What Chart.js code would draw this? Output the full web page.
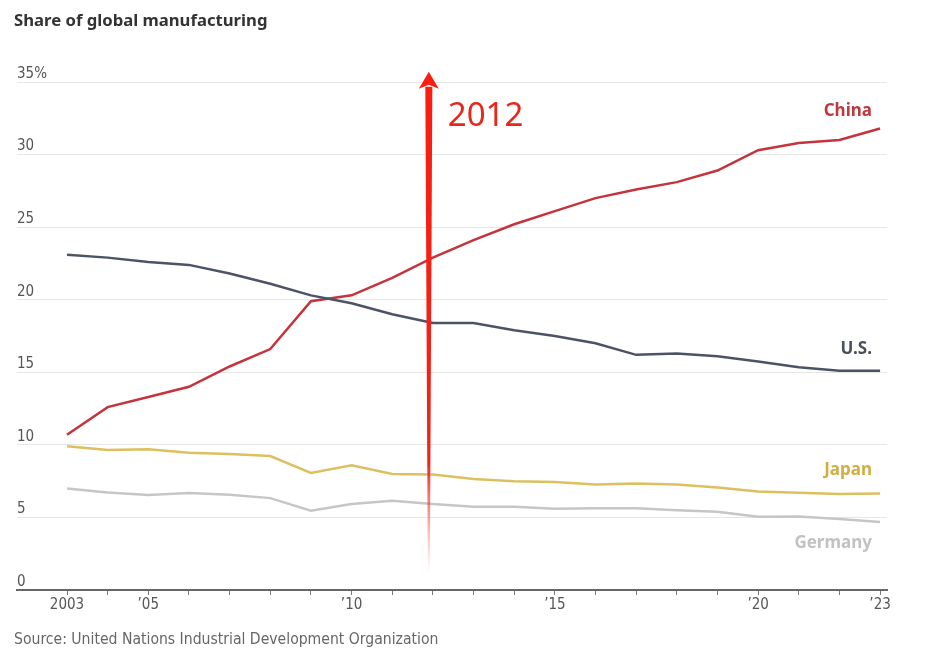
<!DOCTYPE html>
<html>
<head>
<meta charset="utf-8">
<script src="https://cdn.jsdelivr.net/npm/chart.js@4"></script>
<style>
  html, body { margin: 0; padding: 0; background: #fff; }
  #wrap { position: relative; width: 934px; height: 667px; }
  #chart { position: absolute; left: 0; top: 0; }
  .title { position: absolute; left: 14px; top: 8px; font: bold 16.7px "Noto Sans", sans-serif; color: #333; }
  .source { position: absolute; left: 14px; top: 630px; font: 15.6px "Liberation Sans Narrow", "DejaVu Sans Condensed", sans-serif; color: #666; }
</style>
</head>
<body>
<div id="wrap">
  <canvas id="chart" width="934" height="667"></canvas>
  <div class="title">Share of global manufacturing</div>
  <div class="source">Source: United Nations Industrial Development Organization</div>
</div>
<script>
const years = [2003, 2004, 2005, 2006, 2007, 2008, 2009, 2010, 2011, 2012, 2013,
  2014, 2015, 2016, 2017, 2018, 2019, 2020, 2021, 2022, 2023];
const labeledYears = [2003, 2005, 2010, 2015, 2020, 2023];

const china = [10.7, 12.6, 13.3, 14.0, 15.4, 16.6, 19.9, 20.3, 21.5, 22.9, 24.1,
  25.2, 26.1, 27.0, 27.6, 28.1, 28.9, 30.3, 30.8, 31.0, 31.8];
const us = [23.1, 22.9, 22.6, 22.4, 21.8, 21.1, 20.3, 19.75, 19.0, 18.4, 18.4,
  17.9, 17.5, 17.0, 16.2, 16.3, 16.1, 15.75, 15.35, 15.1, 15.1];
const japan = [9.9, 9.65, 9.7, 9.45, 9.37, 9.23, 8.06, 8.6, 7.99, 7.96, 7.65,
  7.5, 7.44, 7.27, 7.34, 7.27, 7.07, 6.79, 6.7, 6.61, 6.65];
const germany = [7.0, 6.72, 6.54, 6.68, 6.56, 6.33, 5.46, 5.92, 6.15, 5.92, 5.73,
  5.73, 5.59, 5.64, 5.64, 5.5, 5.39, 5.04, 5.06, 4.9, 4.68];

const highlightYear = 2012;

const narrow = '"Liberation Sans Narrow", "DejaVu Sans Condensed", sans-serif';

function series(values) {
  return values.map((v, i) => ({ x: years[i], y: v }));
}

// series name labels at the right end, and the red 2012 arrow
const overlay = {
  id: "overlay",
  afterDatasetsDraw(chart) {
    const ctx = chart.ctx;
    const x = chart.scales.x;
    const y = chart.scales.y;

    const names = [
      { text: "China", color: "#c0383f", value: 33.0 },
      { text: "U.S.", color: "#4a4f5c", value: 16.6 },
      { text: "Japan", color: "#d0ae42", value: 8.25 },
      { text: "Germany", color: "#c2c2c2", value: 3.2 },
    ];
    ctx.save();
    ctx.font = 'bold 17px "Noto Sans", sans-serif';
    ctx.textAlign = "right";
    ctx.textBaseline = "middle";
    names.forEach(n => {
      ctx.fillStyle = n.color;
      ctx.fillText(n.text, x.getPixelForValue(2022.8), y.getPixelForValue(n.value));
    });

    // arrow (drawn a hair left of the 2012 point, as in the original)
    const ax = x.getPixelForValue(highlightYear - 0.1);
    const tip = y.getPixelForValue(35.7);
    const headBase = tip + 17;
    const bottom = y.getPixelForValue(1.2);
    const grad = ctx.createLinearGradient(0, tip, 0, bottom);
    grad.addColorStop(0, "#fb1d10");
    grad.addColorStop(0.78, "#ee2418");
    grad.addColorStop(1, "rgba(255,90,90,0)");
    ctx.fillStyle = grad;
    ctx.beginPath();
    ctx.moveTo(ax - 3.5, headBase - 2);
    ctx.lineTo(ax + 3.5, headBase - 2);
    ctx.lineTo(ax + 1, bottom);
    ctx.lineTo(ax - 1, bottom);
    ctx.closePath();
    ctx.fill();
    ctx.beginPath();
    ctx.moveTo(ax, tip);
    ctx.lineTo(ax + 10, headBase);
    ctx.lineTo(ax, headBase - 4);
    ctx.lineTo(ax - 10, headBase);
    ctx.closePath();
    ctx.fill();

    ctx.fillStyle = "#e8261c";
    ctx.font = '33px "Noto Sans", sans-serif';
    ctx.textAlign = "left";
    ctx.fillText(String(highlightYear), ax + 19, y.getPixelForValue(32.6));
    ctx.restore();
  }
};

const lineDs = (label, values, color) => ({
  label: label,
  data: series(values),
  borderColor: color,
  borderWidth: 2.5,
  pointRadius: 0,
  fill: false,
  tension: 0,
});

new Chart(document.getElementById("chart").getContext("2d"), {
  type: "line",
  data: {
    datasets: [
      lineDs("Germany", germany, "#c6c6c6"),
      lineDs("Japan", japan, "#dcc060"),
      lineDs("U.S.", us, "#4d5366"),
      lineDs("China", china, "#c4343c"),
    ],
  },
  options: {
    responsive: false,
    animation: false,
    layout: { padding: { left: 17, right: 47, top: 82, bottom: 52 } },
    plugins: { legend: { display: false }, tooltip: { enabled: false } },
    scales: {
      x: {
        type: "linear",
        min: 2001.77,
        max: 2023.17,
        afterBuildTicks: axis => { axis.ticks = years.map(v => ({ value: v })); },
        grid: { drawOnChartArea: false, color: "#777", tickLength: 5, lineWidth: 1 },
        border: { display: true, color: "#666", width: 2 },
        ticks: {
          color: "#555",
          font: { family: narrow, size: 15 },
          padding: 1,
          maxRotation: 0,
          autoSkip: false,
          callback: v => {
            if (!labeledYears.includes(v)) return "";
            return v === 2003 ? "2003" : "\u2019" + String(v).slice(2);
          },
        },
      },
      y: {
        min: 0,
        max: 35,
        border: { display: false },
        grid: { color: "#e6e6e6", lineWidth: 1, drawTicks: false },
        ticks: {
          stepSize: 5,
          mirror: true,
          padding: 0,
          labelOffset: -8,
          color: "#555",
          font: { family: narrow, size: 15 },
          callback: v => (v === 35 ? "35%" : v),
        },
      },
    },
  },
  plugins: [overlay],
});
</script>
</body>
</html>
